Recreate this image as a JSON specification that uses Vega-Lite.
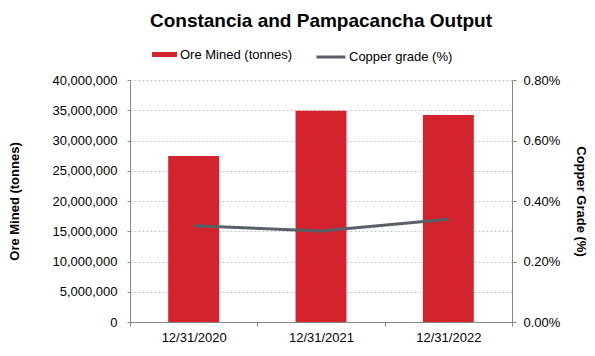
{
  "$schema": "https://vega.github.io/schema/vega-lite/v6.json",
  "width": 382,
  "height": 242,
  "autosize": {"type": "none"},
  "padding": {"left": 130, "top": 80, "right": 83, "bottom": 34},
  "background": "white",
  "config": {
    "font": "Liberation Sans",
    "view": {"stroke": null},
    "axis": {"labelFont": "Liberation Sans", "titleFont": "Liberation Sans", "labelColor": "#000", "titleColor": "#000", "labelFontSize": 13, "titleFontSize": 13}
  },
  "title": {"text": "Constancia and Pampacancha Output", "font": "Liberation Sans", "fontSize": 19, "fontWeight": "bold", "color": "#000", "anchor": "middle", "offset": 10},
  "data": {"values": [
    {"date": "12/31/2020", "ore": 27450000, "grade": 0.00318, "s1": "Ore Mined (tonnes)", "s2": "Copper grade (%)"},
    {"date": "12/31/2021", "ore": 34930000, "grade": 0.00301, "s1": "Ore Mined (tonnes)", "s2": "Copper grade (%)"},
    {"date": "12/31/2022", "ore": 34200000, "grade": 0.0034, "s1": "Ore Mined (tonnes)", "s2": "Copper grade (%)"}
  ]},
  "encoding": {
    "x": {"field": "date", "type": "nominal", "scale": {"paddingInner": 0, "paddingOuter": 0},
      "axis": {"title": null, "labelAngle": 0, "ticks": true, "tickBand": "extent", "tickSize": 4, "tickColor": "#888", "domainColor": "#888", "labelPadding": 5}}
  },
  "layer": [
    {
      "mark": {"type": "bar", "color": "#d2232e", "width": {"band": 0.4}},
      "encoding": {
        "y": {"field": "ore", "type": "quantitative", "scale": {"domain": [0, 40000000]},
          "axis": {"title": "Ore Mined (tonnes)", "titleFontWeight": "bold", "format": ",.0f", "values": [0,5000000,10000000,15000000,20000000,25000000,30000000,35000000,40000000],
            "grid": true, "gridColor": "#c8c8c8", "gridDash": [2, 2], "domainColor": "#888", "tickColor": "#888", "tickSize": 3, "labelPadding": 10, "titlePadding": 30}},
        "fill": {"field": "s1", "type": "nominal", "scale": {"range": ["#d2232e"]},
          "legend": {"title": null, "orient": "none", "legendX": 21, "legendY": -39, "symbolType": "M-1,-0.2H1V0.2H-1Z", "symbolSize": 625, "labelFontSize": 13, "labelFont": "Liberation Sans", "labelColor": "#000", "labelOffset": 2}}
      }
    },
    {
      "mark": {"type": "line", "strokeWidth": 3, "color": "#5a6068"},
      "encoding": {
        "y": {"field": "grade", "type": "quantitative", "scale": {"domain": [0, 0.008]},
          "axis": {"orient": "right", "title": "Copper Grade (%)", "titleFontWeight": "bold", "format": ".2%", "values": [0, 0.002, 0.004, 0.006, 0.008],
            "grid": false, "domainColor": "#888", "tickColor": "#888", "tickSize": 4, "labelPadding": 7, "titlePadding": 14}},
        "stroke": {"field": "s2", "type": "nominal", "scale": {"range": ["#5a6068"]},
          "legend": {"title": null, "orient": "none", "legendX": 185, "legendY": -39, "symbolType": "stroke", "symbolStrokeWidth": 3, "symbolSize": 841, "labelFontSize": 13, "labelFont": "Liberation Sans", "labelColor": "#000", "labelOffset": 2}}
      }
    }
  ],
  "resolve": {"scale": {"y": "independent"}}
}
